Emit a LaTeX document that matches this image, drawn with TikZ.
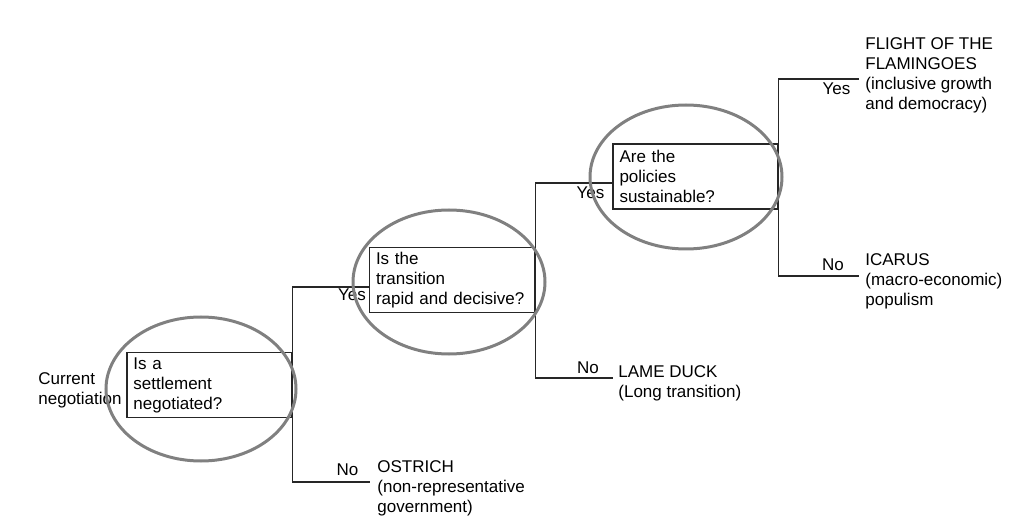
\documentclass[tikz,border=0pt]{standalone}
\usepackage{fontspec}
\setmainfont{Liberation Sans}
\usepackage{tikz}

\begin{document}
\begin{tikzpicture}[x=0.5pt,y=0.5pt,
    every node/.style={font=\fontsize{8.5}{10}\selectfont},
    question/.style={draw=black!85,line width=0.6pt,align=left,text width=76pt,inner xsep=3.25pt,inner ysep=0pt,minimum height=32.5pt},
    outcome/.style={align=left,anchor=north west,inner sep=0pt},
    answer/.style={inner sep=0pt},
    branch/.style={draw=black!85,line width=0.6pt},
    ring/.style={draw=black!50,line width=1.5pt}]
    \useasboundingbox (0,0) rectangle (1030,526);

    \node[outcome] (start) at (38,154) {Current\\negotiation};

    \node[question] (q1) at (209.5,141) {Is a\\settlement\\negotiated?};
    \node[question] (q2) at (452,246) {Is the\\transition\\rapid and decisive?};
    \node[question] (q3) at (695.5,349.5) {Are the\\policies\\sustainable?};

    \node[outcome] (ostrich) at (377,66) {OSTRICH\\(non-representative\\government)};
    \node[outcome] (lameduck) at (618,161) {LAME DUCK\\(Long transition)};
    \node[outcome] (flamingoes) at (865,489) {FLIGHT OF THE\\FLAMINGOES\\(inclusive growth\\and democracy)};
    \node[outcome] (icarus) at (865,273) {ICARUS\\(macro-economic)\\populism};

    % ends of the branches
    \coordinate (ostrichend) at (370,44);
    \coordinate (lameduckend) at (613,148);
    \coordinate (flamingoesend) at (859,447);
    \coordinate (icarusend) at (859,250);

    \draw[branch] ([yshift=-3.5pt]q2.west) -| (q1.east) |- (ostrichend);
    \draw[branch] ([yshift=-3.25pt]q3.west) -| (q2.east) |- (lameduckend);
    \draw[branch] (flamingoesend) -| (q3.east) |- (icarusend);

    \node[answer] (yes1) at (352,231) {Yes};
    \node[answer] (no1) at (347.5,56.5) {No};
    \node[answer] (yes2) at (590.5,333) {Yes};
    \node[answer] (no2) at (588,158) {No};
    \node[answer] (yes3) at (836.5,437) {Yes};
    \node[answer] (no3) at (833,261) {No};

    \draw[ring] (201,137) ellipse (47.5pt and 36pt);
    \draw[ring] (449,244) ellipse (48pt and 36pt);
    \draw[ring] (686,349) ellipse (48pt and 36pt);
\end{tikzpicture}
\end{document}
